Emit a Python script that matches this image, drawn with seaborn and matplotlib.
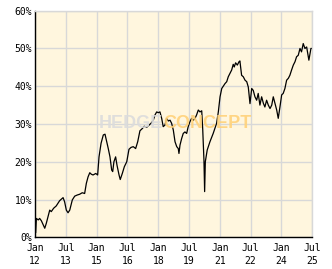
import matplotlib
matplotlib.use("Agg")
import matplotlib.pyplot as plt
from matplotlib.ticker import MultipleLocator, FixedLocator
import seaborn as sns
import pandas as pd

# months since Jan 2012
months = [0.4, 0.8, 1.9, 2.7, 3.7, 5.7, 6.6, 7.6, 8.6, 9.5, 10.9, 12.4, 14.4, 16.4, 17.3,
          18.3, 19.3, 20.3, 21.8, 23.2, 24.7, 26.1, 27.6, 29.0, 30.0, 31.0, 32.0, 32.9, 33.9,
          35.5, 36.6, 37.4, 38.6, 39.9, 40.9, 41.9, 42.8, 43.8, 44.8, 45.4, 46.1, 47.1, 47.9,
          49.1, 49.8, 51.0, 52.2, 53.6, 54.9, 56.1, 57.4, 58.8, 60.0, 61.3, 62.7, 63.8, 65.2,
          66.6, 67.8, 69.1, 70.1, 71.1, 72.0, 73.0, 74.0, 74.9, 75.9, 76.9, 77.9, 78.9, 79.8,
          80.8, 81.8, 82.8, 83.7, 84.1, 84.7, 85.7, 86.6, 87.6, 88.6, 89.5, 90.5, 91.5, 92.5,
          93.5, 94.4, 95.4, 96.4, 97.4, 98.0, 98.7, 99.1, 99.5, 100.6, 102.2, 104.1, 106.1,
          107.1, 108.1, 109.1, 111.0, 112.0, 112.9, 113.9, 114.9, 115.8, 116.4, 117.2, 118.2,
          119.2, 119.7, 120.7, 121.7, 122.7, 123.7, 124.6, 125.6, 126.6, 127.5, 128.5, 129.5,
          130.4, 131.4, 132.4, 133.4, 134.3, 135.3, 136.3, 137.3, 138.3, 139.2, 140.2, 141.2,
          142.1, 143.1, 144.1, 145.0, 146.0, 147.0, 148.0, 148.9, 149.9, 150.9, 151.9, 152.8,
          153.8, 154.8, 155.7, 156.7, 157.7, 158.7, 160.0, 161.2, 162.0]
performance = [1.2, 5.0, 4.6, 5.0, 4.4, 2.4, 3.7, 5.5, 7.2, 6.8, 7.7, 8.3, 9.7, 10.5, 9.4,
               7.2, 6.5, 7.2, 9.9, 10.9, 11.2, 11.4, 11.8, 11.6, 14.3, 16.0, 17.1, 16.7, 16.5,
               16.9, 16.5, 21.3, 24.9, 27.1, 27.3, 25.3, 23.5, 21.3, 17.8, 17.4, 20.0, 21.3, 19.1,
               16.5, 15.3, 16.9, 18.7, 20.0, 23.3, 23.8, 24.0, 23.5, 25.3, 28.2, 28.8, 29.4, 29.1,
               29.7, 30.2, 31.0, 32.4, 33.2, 33.0, 33.2, 31.5, 29.3, 29.7, 31.5, 30.8, 31.0, 30.2,
               28.4, 25.3, 24.0, 23.5, 22.2, 24.4, 26.2, 27.5, 27.9, 27.5, 29.3, 30.6, 31.5, 31.0,
               31.5, 32.4, 33.7, 33.2, 33.5, 28.4, 20.4, 12.1, 20.0, 23.1, 25.3, 27.5, 30.2,
               33.2, 37.2, 39.4, 40.7, 41.2, 42.5, 43.4, 44.3, 45.8, 45.1, 46.2, 45.6,
               46.5, 46.7, 42.9, 42.5, 41.6, 41.2, 39.8, 35.4, 39.4, 38.9, 37.2, 36.3,
               38.1, 35.0, 37.2, 35.5, 34.5, 36.3, 35.0, 34.1, 35.0, 37.2, 35.4, 33.7,
               31.5, 34.5, 37.7, 38.1, 39.4, 41.6, 42.1, 42.9, 44.3, 45.6, 46.5, 47.8,
               48.2, 50.0, 49.1, 51.3, 50.0, 50.4, 46.9, 50.0, 50.0]

tick_months = [0, 18, 36, 54, 72, 90, 108, 126, 144, 162]
tick_labels = ["Jan\n12", "Jul\n13", "Jan\n15", "Jul\n16", "Jan\n18",
               "Jul\n19", "Jan\n21", "Jul\n22", "Jan\n24", "Jul\n25"]
y_ticks = [0, 10, 20, 30, 40, 50, 60]

df = pd.DataFrame({"month": months, "perf": performance})

sns.set_style("white")
plt.rcParams["font.family"] = ["DejaVu Sans Mono"]

fig = plt.figure(figsize=(3.32, 2.69), dpi=100)
ax = fig.add_axes([35 / 332, 1 - 237.3 / 269, 277.3 / 332, 226.6 / 269])
ax.set_facecolor("#FFF6DE")

sns.lineplot(data=df, x="month", y="perf", ax=ax, color="black", linewidth=0.9)

ax.set_xlim(0, 162)
ax.set_ylim(0, 60)
ax.xaxis.set_major_locator(FixedLocator(tick_months))
ax.set_xticklabels(tick_labels, linespacing=1.35)
ax.set_yticks(y_ticks)
ax.set_yticklabels([f"{v}%" for v in y_ticks])
ax.yaxis.set_minor_locator(MultipleLocator(5))
ax.grid(True, which="major", color="#D8D8D8", linewidth=1.0)
ax.set_axisbelow(True)
ax.tick_params(axis="both", which="both", direction="in", color="black", labelsize=7,
               labelcolor="black")
ax.tick_params(axis="x", which="major", length=4, width=1, pad=4)
ax.tick_params(axis="y", which="major", length=4, width=1, pad=2)
ax.tick_params(axis="y", which="minor", length=4, width=1)
ax.set_xlabel("")
ax.set_ylabel("")
for side in ["left", "bottom"]:
    ax.spines[side].set_color("black")
    ax.spines[side].set_linewidth(1.0)
for side in ["top", "right"]:
    ax.spines[side].set_color("#D8D8D8")
    ax.spines[side].set_linewidth(1.0)

wm_font = ["Liberation Sans", "DejaVu Sans"]
fig.text(163 / 332, 1 - 123 / 269, "HEDGE", ha="right", va="center", fontsize=13,
         fontweight="bold", family=wm_font, color="#DCDCDC", alpha=0.9, zorder=10)
fig.text(163 / 332, 1 - 123 / 269, "CONCEPT", ha="left", va="center", fontsize=13,
         fontweight="bold", family=wm_font, color="#FFD27A", alpha=0.9, zorder=10)

fig.savefig("out.png", dpi=100)
